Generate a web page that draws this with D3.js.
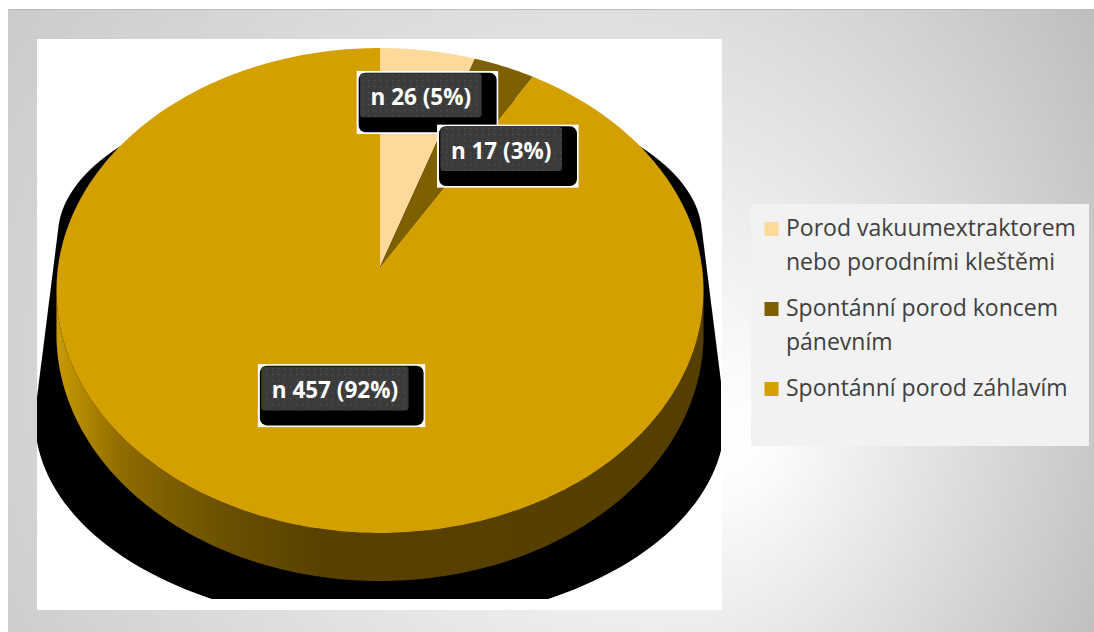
<!DOCTYPE html>
<html>
<head>
<meta charset="utf-8">
<script src="https://cdn.jsdelivr.net/npm/d3@7"></script>
<style>
  html, body { margin: 0; padding: 0; background: #ffffff; }
  svg { display: block; }
</style>
</head>
<body>
<svg id="chart" width="1094" height="632"></svg>
<script>
// ---- data ----
const categories = [
  "Porod vakuumextraktorem nebo porodními kleštěmi",
  "Spontánní porod koncem pánevním",
  "Spontánní porod záhlavím"
];
const legendLines = [
  ["Porod vakuumextraktorem", "nebo porodními kleštěmi"],
  ["Spontánní porod koncem", "pánevním"],
  ["Spontánní porod záhlavím"]
];
const counts = [26, 17, 457];
const percentLabels = ["5%", "3%", "92%"];
const sliceColors = ["#FFD999", "#7F6000", "#D4A000"];

// ---- layout ----
const W = 1094, H = 632;
const frame = { x: 8, y: 9, w: 1086, h: 623 };
const plot = { x: 37, y: 39, w: 685, h: 571 };
// perspective disc: centre of the disc projects to (cx, cy)
const disc = { cx: 380, cy: 267, A: 322, B: 240.2, k: -0.0969, D: 43.35 };
// label placement per slice: fraction of radius, angular nudge (deg)
const labelPlace = [{ r: 0.78, nudge: 0.7 }, { r: 0.65, nudge: 12.6 }, { r: 0.5, nudge: 0 }];
const legend = { x: 751, y: 204, w: 338, h: 242, swX: 764.5, sw: 14, textX: 786,
                 firstBase: 236, lineH: 34, itemGap: 12 };

const svg = d3.select("#chart");
const defs = svg.append("defs");

// chart-area background
const bg = defs.append("radialGradient").attr("id", "bgGrad")
  .attr("gradientUnits", "userSpaceOnUse")
  .attr("cx", 420).attr("cy", 330).attr("r", 760)
  .attr("fx", 745).attr("fy", 445);
bg.append("stop").attr("offset", 0).attr("stop-color", "#ffffff");
bg.append("stop").attr("offset", 0.08).attr("stop-color", "#fbfbfb");
bg.append("stop").attr("offset", 1).attr("stop-color", "#bcbcbc");

// side wall shading
const sideGrad = defs.append("linearGradient").attr("id", "sideGrad")
  .attr("gradientUnits", "userSpaceOnUse")
  .attr("x1", 56).attr("y1", 0).attr("x2", 703).attr("y2", 0);
[[0, "#c99b00"], [0.1, "#8f6c00"], [0.26, "#6a5000"], [0.42, "#574000"], [1, "#553f00"]]
  .forEach(([o, c]) => sideGrad.append("stop").attr("offset", o).attr("stop-color", c));

// dotted fill for data label boxes
const pat = defs.append("pattern").attr("id", "dots")
  .attr("patternUnits", "userSpaceOnUse").attr("width", 6).attr("height", 6);
pat.append("rect").attr("width", 6).attr("height", 6).attr("fill", "#3b3b3b");
pat.append("rect").attr("x", 2).attr("y", 2).attr("width", 1.2).attr("height", 1.2).attr("fill", "#555555");

defs.append("clipPath").attr("id", "shadowClip")
  .append("rect").attr("x", plot.x).attr("y", plot.y).attr("width", 684).attr("height", 560);

svg.append("rect")
  .attr("x", frame.x).attr("y", frame.y).attr("width", frame.w).attr("height", frame.h)
  .attr("fill", "url(#bgGrad)");
svg.append("line")
  .attr("x1", frame.x).attr("x2", frame.x + frame.w).attr("y1", frame.y + 0.5).attr("y2", frame.y + 0.5)
  .attr("stroke", "#bdbdbd").attr("stroke-width", 1);

svg.append("rect")
  .attr("x", plot.x).attr("y", plot.y).attr("width", plot.w).attr("height", plot.h)
  .attr("fill", "#ffffff");

// ---- projection helpers ----
function project(theta, r, drop) {
  const u = r * Math.sin(theta), v = -r * Math.cos(theta);
  const w = 1 + disc.k * v;
  return [disc.cx + disc.A * u / w, disc.cy + disc.B * v / w + (drop || 0) * disc.D / w];
}
function samples(a0, a1, n) {
  return d3.range(n + 1).map(i => a0 + (a1 - a0) * i / n);
}

// ---- cast shadow: hull of two ellipses around the disc ----
function ellipsePts(cx, cy, rx, ry) {
  return d3.range(0, 360, 2).map(a => {
    const t = a * Math.PI / 180;
    return [cx + rx * Math.cos(t), cy + ry * Math.sin(t)];
  });
}
const hull = d3.polygonHull(
  ellipsePts(disc.cx, 235, disc.A, 150).concat(ellipsePts(disc.cx, 420, disc.A * 1.071, 205))
);
svg.append("path")
  .attr("clip-path", "url(#shadowClip)")
  .attr("d", "M" + hull.map(p => p.join(",")).join("L") + "Z")
  .attr("fill", "#000000");

// ---- pie ----
const pie = d3.pie().sort(null).value(d => d)(counts);
const line = d3.line();

// front wall between the two silhouette tangents
const thR = Math.acos(disc.k), thL = 2 * Math.PI - thR;
const sideTop = samples(thR, thL, 160).map(t => project(t, 1, 0));
const sideBot = samples(thL, thR, 160).map(t => project(t, 1, 1));
svg.append("path")
  .attr("d", line(sideTop.concat(sideBot)) + "Z")
  .attr("fill", "url(#sideGrad)");

// top faces
svg.append("g").selectAll("path")
  .data(pie)
  .join("path")
  .attr("d", d => {
    const n = Math.max(8, Math.ceil((d.endAngle - d.startAngle) * 60));
    const pts = [project(0, 0)].concat(samples(d.startAngle, d.endAngle, n).map(t => project(t, 1)));
    return line(pts) + "Z";
  })
  .attr("fill", (d, i) => sliceColors[i]);

// ---- data labels ----
const labels = svg.append("g").attr("font-family", "'Open Sans', sans-serif")
  .attr("font-weight", "bold").attr("font-size", 22.5);

pie.forEach((d, i) => {
  const mid = (d.startAngle + d.endAngle) / 2 + labelPlace[i].nudge * Math.PI / 180;
  const [lx, ly] = project(mid, labelPlace[i].r);
  const g = labels.append("g");
  const txt = g.append("text")
    .attr("x", lx).attr("y", ly + 10)
    .attr("text-anchor", "middle").attr("fill", "#ffffff")
    .text(`n ${counts[i]} (${percentLabels[i]})`);
  const tw = txt.node().getComputedTextLength();
  const bw = tw + 21, bh = 44;
  const bx = lx - bw / 2, by = ly - bh / 2;
  g.insert("rect", "text")
    .attr("x", bx - 3.4).attr("y", by - 2.3).attr("width", bw + 20).attr("height", bh + 19)
    .attr("fill", "#ffffff");
  g.insert("rect", "text")
    .attr("x", bx - 1.4).attr("y", by - 0.6).attr("width", bw + 16.4).attr("height", bh + 15.6)
    .attr("rx", 7).attr("fill", "#000000");
  g.insert("rect", "text")
    .attr("x", bx).attr("y", by).attr("width", bw).attr("height", bh)
    .attr("rx", 3).attr("fill", "url(#dots)");
});

// ---- legend ----
svg.append("rect")
  .attr("x", legend.x).attr("y", legend.y).attr("width", legend.w).attr("height", legend.h)
  .attr("fill", "#f2f2f2");

const lg = svg.append("g").attr("font-family", "'Open Sans', sans-serif")
  .attr("font-size", 23).attr("fill", "#404040");
let base = legend.firstBase;
categories.forEach((c, i) => {
  lg.append("rect")
    .attr("x", legend.swX).attr("y", base - legend.sw).attr("width", legend.sw).attr("height", legend.sw)
    .attr("fill", sliceColors[i]);
  const t = lg.append("text").attr("x", legend.textX).attr("y", base);
  legendLines[i].forEach((ln, j) => {
    t.append("tspan").attr("x", legend.textX).attr("y", base + j * legend.lineH).text(ln);
  });
  base += legendLines[i].length * legend.lineH + legend.itemGap;
});
</script>
</body>
</html>
